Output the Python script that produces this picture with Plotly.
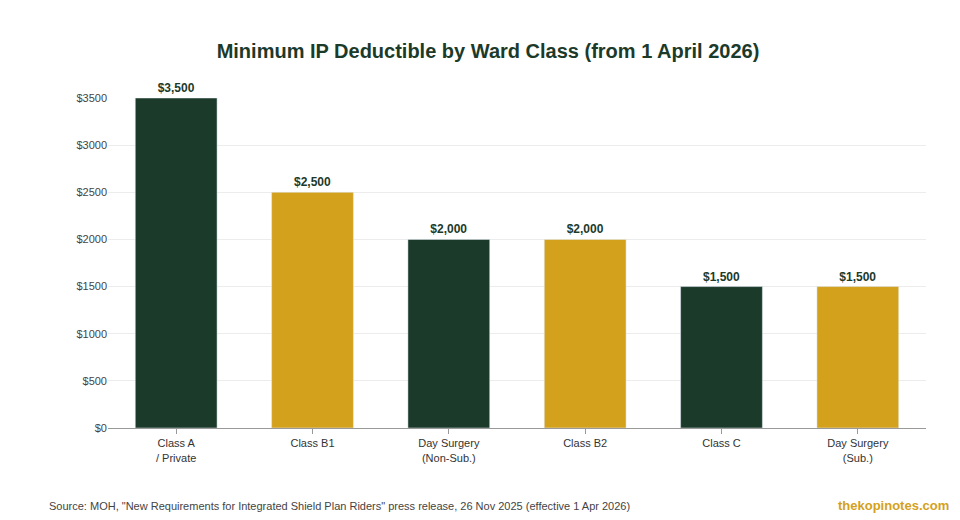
import plotly.graph_objects as go

categories = ["Class A<br>/ Private", "Class B1", "Day Surgery<br>(Non-Sub.)", "Class B2", "Class C", "Day Surgery<br>(Sub.)"]
deductibles = [3500, 2500, 2000, 2000, 1500, 1500]
tick_vals = [0, 500, 1000, 1500, 2000, 2500, 3000, 3500]
tick_text = ["$0", "$500", "$1000", "$1500", "$2000", "$2500", "$3000", "$3500"]

green = "#1c3a2a"
gold = "#d4a11c"
colors = [green if i % 2 == 0 else gold for i in range(len(categories))]

fig = go.Figure(go.Bar(
    x=categories, y=deductibles, marker_color=colors, width=0.6,
    text=[f"${v:,}" for v in deductibles], textposition="outside", cliponaxis=False,
    textfont=dict(size=12, color=green, family="Liberation Sans, Arial", weight="bold"),
))

fig.update_layout(
    width=960, height=520,
    margin=dict(l=100, r=42, t=90, b=100),
    plot_bgcolor="white", paper_bgcolor="white",
    font=dict(family="Liberation Sans, Arial", color="#333"),
    title=dict(text="<b>Minimum IP Deductible by Ward Class (from 1 April 2026)</b>",
               x=0.5, y=0.93, xanchor="center", font=dict(size=20, color=green)),
    showlegend=False,
    bargap=0.4,
)
fig.update_yaxes(range=[0, 3500], tickvals=tick_vals, ticktext=tick_text,
                 gridcolor="#ececec", tickfont=dict(size=11, color="#444"), zeroline=False)
fig.update_xaxes(showline=True, linecolor="#999", ticks="outside", tickcolor="#999",
                 tickfont=dict(size=11, color="#333"))

fig.add_annotation(text='Source: MOH, "New Requirements for Integrated Shield Plan Riders" press release, 26 Nov 2025 (effective 1 Apr 2026)',
                   xref="paper", yref="paper", x=-0.075, y=-0.235, xanchor="left", yanchor="middle",
                   showarrow=False, font=dict(size=11, color="#444"))
fig.add_annotation(text="<b>thekopinotes.com</b>", xref="paper", yref="paper", x=1.03, y=-0.235,
                   xanchor="right", yanchor="middle", showarrow=False, font=dict(size=13, color=gold))

fig.write_html("out.html")
